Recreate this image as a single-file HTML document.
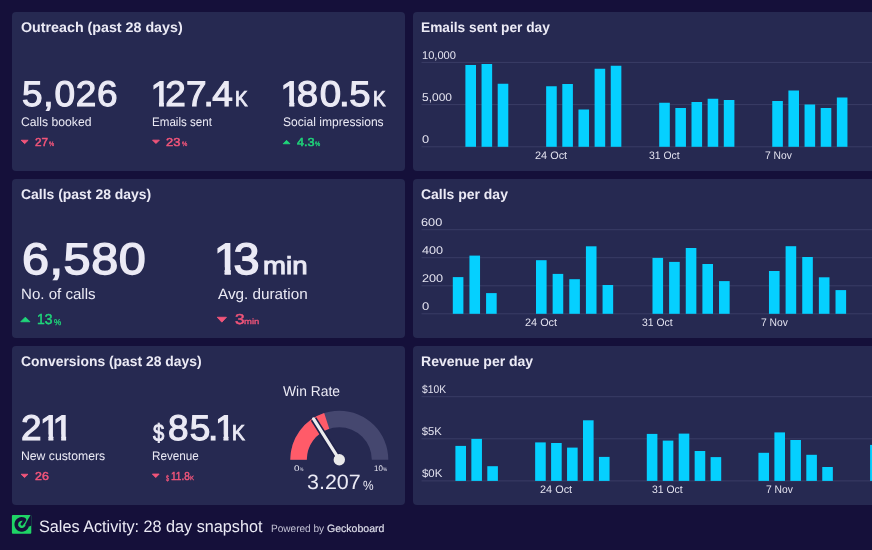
<!DOCTYPE html>
<html lang="en">
<head>
<meta charset="utf-8">
<title>Sales Activity: 28 day snapshot</title>
<style>
*{box-sizing:border-box;margin:0;padding:0}
html,body{width:872px;height:550px;overflow:hidden;background:#15103a}
body{font-family:"Liberation Sans",sans-serif;color:#ebeaf5;position:relative}
.board{position:absolute;left:0;top:0;width:872px;height:550px;overflow:hidden}
.panel{position:absolute;background:#262951;border-radius:4px}
.foot{position:absolute;left:0;top:504px;width:872px;height:46px}
.tx{position:absolute;white-space:nowrap;line-height:1;font-weight:400;font-style:normal;display:block;transform-origin:0 0;text-rendering:geometricPrecision}
svg{position:absolute;left:0;top:0;overflow:visible}
.n1{display:inline-block;margin:0 -0.165em 0 -0.07em;clip-path:polygon(0 0,0.365em 0,0.365em 1.2em,0.232em 1.2em,0.232em 0.66em,0 0.66em)}
.dp{margin:0 -0.05em 0 -0.09em}
</style>
</head>
<body>
<main class="board">
<section class="panel outreach" style="left:12px;top:12px;width:393px;height:159px">
<svg width="393" height="159" viewBox="12 12 393 159" aria-hidden="true">
<polygon points="21.15,140.25 28.15,140.25 24.65,143.65" fill="#f2557a" stroke="#f2557a" stroke-width="0.9" stroke-linejoin="round"/>
<polygon points="152.55,140.15 159.35,140.15 155.95,143.55" fill="#f2557a" stroke="#f2557a" stroke-width="0.9" stroke-linejoin="round"/>
<polygon points="283.15,143.75 289.95,143.75 286.55,140.35" fill="#1fd67a" stroke="#1fd67a" stroke-width="0.9" stroke-linejoin="round"/>
</svg>
<h2 class="tx" style="left:8.73px;top:8px;font-size:14.00px;transform:scaleX(1.0184);font-weight:700">Outreach (past 28 days)</h2>
<span class="tx" style="left:10.26px;top:65px;font-size:35.57px;letter-spacing:0.75px;transform:scaleX(1.0400);-webkit-text-stroke:1.1px">5,026</span>
<span class="tx" style="left:140.87px;top:65px;font-size:35.57px;letter-spacing:0.28px;transform:scaleX(1.0400);-webkit-text-stroke:1.1px"><span class="n1">1</span>27<span class="dp">.</span>4</span>
<span class="tx" style="left:222.93px;top:77px;font-size:21.50px;transform:scaleX(0.8729);-webkit-text-stroke:0.9px">K</span>
<span class="tx" style="left:271.32px;top:65px;font-size:35.57px;letter-spacing:1.36px;transform:scaleX(1.0800);-webkit-text-stroke:1.1px"><span class="n1">1</span>80<span class="dp">.</span>5</span>
<span class="tx" style="left:360.83px;top:77px;font-size:21.50px;transform:scaleX(0.8729);-webkit-text-stroke:0.9px">K</span>
<span class="tx" style="left:9.40px;top:104px;font-size:12.41px;transform:scaleX(0.9821)">Calls booked</span>
<span class="tx" style="left:140.28px;top:104px;font-size:12.41px;transform:scaleX(0.9352)">Emails sent</span>
<span class="tx" style="left:270.81px;top:104px;font-size:12.41px;transform:scaleX(0.9731)">Social impressions</span>
<span class="tx" style="left:22.99px;top:126px;font-size:11.48px;transform:scaleX(1.0249);-webkit-text-stroke:0.5px;color:#f2557a">27</span>
<span class="tx" style="left:37.16px;top:130px;font-size:6.40px;transform:scaleX(0.9064);-webkit-text-stroke:0.3px;color:#f2557a">%</span>
<span class="tx" style="left:154.08px;top:126px;font-size:11.48px;transform:scaleX(1.1240);-webkit-text-stroke:0.5px;color:#f2557a">23</span>
<span class="tx" style="left:169.57px;top:130px;font-size:6.40px;transform:scaleX(0.9295);-webkit-text-stroke:0.3px;color:#f2557a">%</span>
<span class="tx" style="left:285.01px;top:126px;font-size:11.48px;transform:scaleX(1.1085);-webkit-text-stroke:0.5px;color:#1fd67a">4.3</span>
<span class="tx" style="left:303.36px;top:130px;font-size:6.40px;transform:scaleX(0.9120);-webkit-text-stroke:0.3px;color:#1fd67a">%</span>
</section>
<section class="panel emails" style="left:413px;top:12px;width:480px;height:159px">
<svg width="480" height="159" viewBox="413 12 480 159" aria-hidden="true">
<g class="grid">
<rect x="421.5" y="61.90" width="460" height="1" fill="#3a3c65"/>
<rect x="421.5" y="104.10" width="460" height="1" fill="#3a3c65"/>
<rect x="421.5" y="146.30" width="460" height="1" fill="#3a3c65"/>
</g>
<g class="bars">
<rect x="465.40" y="65.00" width="10.6" height="81.80" fill="#05d0ff"/>
<rect x="481.55" y="64.00" width="10.6" height="82.80" fill="#05d0ff"/>
<rect x="497.70" y="83.75" width="10.6" height="63.05" fill="#05d0ff"/>
<rect x="546.15" y="86.25" width="10.6" height="60.55" fill="#05d0ff"/>
<rect x="562.30" y="84.00" width="10.6" height="62.80" fill="#05d0ff"/>
<rect x="578.45" y="109.50" width="10.6" height="37.30" fill="#05d0ff"/>
<rect x="594.60" y="68.75" width="10.6" height="78.05" fill="#05d0ff"/>
<rect x="610.75" y="65.75" width="10.6" height="81.05" fill="#05d0ff"/>
<rect x="659.20" y="102.75" width="10.6" height="44.05" fill="#05d0ff"/>
<rect x="675.35" y="108.00" width="10.6" height="38.80" fill="#05d0ff"/>
<rect x="691.50" y="102.00" width="10.6" height="44.80" fill="#05d0ff"/>
<rect x="707.65" y="98.75" width="10.6" height="48.05" fill="#05d0ff"/>
<rect x="723.80" y="100.00" width="10.6" height="46.80" fill="#05d0ff"/>
<rect x="772.25" y="101.00" width="10.6" height="45.80" fill="#05d0ff"/>
<rect x="788.40" y="90.50" width="10.6" height="56.30" fill="#05d0ff"/>
<rect x="804.55" y="104.50" width="10.6" height="42.30" fill="#05d0ff"/>
<rect x="820.70" y="108.00" width="10.6" height="38.80" fill="#05d0ff"/>
<rect x="836.85" y="97.50" width="10.6" height="49.30" fill="#05d0ff"/>
</g>
</svg>
<h2 class="tx" style="left:8.12px;top:8px;font-size:14.00px;transform:scaleX(0.9795);font-weight:700">Emails sent per day</h2>
<span class="tx" style="left:8.66px;top:39px;font-size:11.25px;transform:scaleX(0.9873);color:#e3e2ef">10,000</span>
<span class="tx" style="left:8.84px;top:81px;font-size:11.25px;transform:scaleX(1.0633);color:#e3e2ef">5,000</span>
<span class="tx" style="left:9.05px;top:123px;font-size:11.25px;transform:scaleX(1.1371);color:#e3e2ef">0</span>
<span class="tx" style="left:122.22px;top:139px;font-size:10.93px;transform:scaleX(0.9979);color:#e3e2ef">24 Oct</span>
<span class="tx" style="left:235.94px;top:139px;font-size:10.93px;transform:scaleX(0.9532);color:#e3e2ef">31 Oct</span>
<span class="tx" style="left:351.54px;top:139px;font-size:10.93px;transform:scaleX(0.9403);color:#e3e2ef">7 Nov</span>
</section>
<section class="panel calls" style="left:12px;top:179px;width:393px;height:159px">
<svg width="393" height="159" viewBox="12 179 393 159" aria-hidden="true">
<polygon points="20.75,321.75 29.95,321.75 25.35,317.15" fill="#1fd67a" stroke="#1fd67a" stroke-width="0.9" stroke-linejoin="round"/>
<polygon points="217.25,317.25 226.45,317.25 221.85,322.15" fill="#f2557a" stroke="#f2557a" stroke-width="0.9" stroke-linejoin="round"/>
</svg>
<h2 class="tx" style="left:8.74px;top:8px;font-size:14.00px;transform:scaleX(0.9959);font-weight:700">Calls (past 28 days)</h2>
<span class="tx" style="left:9.55px;top:59px;font-size:44.21px;letter-spacing:0.47px;transform:scaleX(1.1000);-webkit-text-stroke:1.4px">6,580</span>
<span class="tx" style="left:205.45px;top:59px;font-size:44.21px;letter-spacing:1.46px;transform:scaleX(1.0600);-webkit-text-stroke:1.4px"><span class="n1">1</span>3</span>
<span class="tx" style="left:250.78px;top:76px;font-size:24.68px;transform:scaleX(1.1190);-webkit-text-stroke:1.0px">min</span>
<span class="tx" style="left:9.00px;top:108px;font-size:15.08px">No. of calls</span>
<span class="tx" style="left:205.60px;top:108px;font-size:15.08px;transform:scaleX(1.0125)">Avg. duration</span>
<span class="tx" style="left:25.13px;top:134px;font-size:14.50px;transform:scaleX(0.9587);-webkit-text-stroke:0.5px;color:#1fd67a">13</span>
<span class="tx" style="left:41.64px;top:139px;font-size:8.39px;transform:scaleX(0.9689);-webkit-text-stroke:0.3px;color:#1fd67a">%</span>
<span class="tx" style="left:222.61px;top:134px;font-size:14.50px;transform:scaleX(1.1892);-webkit-text-stroke:0.5px;color:#f2557a">3</span>
<span class="tx" style="left:232.24px;top:139px;font-size:7.72px;transform:scaleX(1.2259);-webkit-text-stroke:0.3px;color:#f2557a">min</span>
</section>
<section class="panel calls-chart" style="left:413px;top:179px;width:480px;height:159px">
<svg width="480" height="159" viewBox="413 179 480 159" aria-hidden="true">
<g class="grid">
<rect x="421.5" y="229.20" width="460" height="1" fill="#3a3c65"/>
<rect x="421.5" y="257.20" width="460" height="1" fill="#3a3c65"/>
<rect x="421.5" y="285.30" width="460" height="1" fill="#3a3c65"/>
<rect x="421.5" y="313.30" width="460" height="1" fill="#3a3c65"/>
</g>
<g class="bars">
<rect x="452.80" y="277.10" width="10.6" height="36.70" fill="#05d0ff"/>
<rect x="469.44" y="255.60" width="10.6" height="58.20" fill="#05d0ff"/>
<rect x="486.08" y="293.10" width="10.6" height="20.70" fill="#05d0ff"/>
<rect x="536.00" y="260.20" width="10.6" height="53.60" fill="#05d0ff"/>
<rect x="552.64" y="273.90" width="10.6" height="39.90" fill="#05d0ff"/>
<rect x="569.28" y="279.20" width="10.6" height="34.60" fill="#05d0ff"/>
<rect x="585.92" y="246.30" width="10.6" height="67.50" fill="#05d0ff"/>
<rect x="602.56" y="285.00" width="10.6" height="28.80" fill="#05d0ff"/>
<rect x="652.48" y="257.90" width="10.6" height="55.90" fill="#05d0ff"/>
<rect x="669.12" y="261.90" width="10.6" height="51.90" fill="#05d0ff"/>
<rect x="685.76" y="248.00" width="10.6" height="65.80" fill="#05d0ff"/>
<rect x="702.40" y="264.00" width="10.6" height="49.80" fill="#05d0ff"/>
<rect x="719.04" y="281.10" width="10.6" height="32.70" fill="#05d0ff"/>
<rect x="768.96" y="271.00" width="10.6" height="42.80" fill="#05d0ff"/>
<rect x="785.60" y="246.20" width="10.6" height="67.60" fill="#05d0ff"/>
<rect x="802.24" y="257.00" width="10.6" height="56.80" fill="#05d0ff"/>
<rect x="818.88" y="277.30" width="10.6" height="36.50" fill="#05d0ff"/>
<rect x="835.52" y="290.10" width="10.6" height="23.70" fill="#05d0ff"/>
</g>
</svg>
<h2 class="tx" style="left:8.44px;top:8px;font-size:14.00px;transform:scaleX(0.9971);font-weight:700">Calls per day</h2>
<span class="tx" style="left:8.48px;top:39px;font-size:11.25px;transform:scaleX(1.1338);color:#e3e2ef">600</span>
<span class="tx" style="left:8.80px;top:67px;font-size:11.25px;transform:scaleX(1.1208);color:#e3e2ef">400</span>
<span class="tx" style="left:8.51px;top:95px;font-size:11.25px;transform:scaleX(1.1264);color:#e3e2ef">200</span>
<span class="tx" style="left:8.64px;top:123px;font-size:11.25px;transform:scaleX(1.1559);color:#e3e2ef">0</span>
<span class="tx" style="left:111.91px;top:139px;font-size:10.93px;transform:scaleX(0.9977);color:#e3e2ef">24 Oct</span>
<span class="tx" style="left:229.15px;top:139px;font-size:10.93px;transform:scaleX(0.9484);color:#e3e2ef">31 Oct</span>
<span class="tx" style="left:348.14px;top:139px;font-size:10.93px;transform:scaleX(0.9437);color:#e3e2ef">7 Nov</span>
</section>
<section class="panel conversions" style="left:12px;top:346px;width:393px;height:159px">
<svg width="393" height="159" viewBox="12 346 393 159" aria-hidden="true">
<polygon points="21.15,474.25 27.95,474.25 24.55,477.55" fill="#f2557a" stroke="#f2557a" stroke-width="0.9" stroke-linejoin="round"/>
<polygon points="152.35,474.05 159.15,474.05 155.75,477.55" fill="#f2557a" stroke="#f2557a" stroke-width="0.9" stroke-linejoin="round"/>
<g>
<path d="M290.30,459.70 A49,49 0 0 1 388.30,459.70 L371.80,459.70 A32.5,32.5 0 0 0 306.80,459.70 Z" fill="#45476f"/>
<path d="M290.30,459.70 A49,49 0 0 1 324.16,413.10 L329.26,428.79 A32.5,32.5 0 0 0 306.80,459.70 Z" fill="#ff5b69"/>
<line x1="339.3" y1="459.7" x2="313.56" y2="418.95" stroke="#1f2149" stroke-width="6.4" stroke-linecap="butt"/>
<line x1="339.3" y1="459.7" x2="313.56" y2="418.95" stroke="#ececee" stroke-width="3.2" stroke-linecap="round"/>
<circle cx="339.3" cy="459.7" r="5.7" fill="#e9e9ea"/>
</g>
</svg>
<h2 class="tx" style="left:8.74px;top:8px;font-size:14.00px;transform:scaleX(0.9920);font-weight:700">Conversions (past 28 days)</h2>
<span class="tx" style="left:9.11px;top:65px;font-size:35.57px;letter-spacing:0.83px;transform:scaleX(1.0400);-webkit-text-stroke:1.1px">2<span class="n1">1</span><span class="n1">1</span></span>
<span class="tx" style="left:141.43px;top:76px;font-size:24.14px;transform:scaleX(0.8399);-webkit-text-stroke:0.9px">$</span>
<span class="tx" style="left:155.95px;top:65px;font-size:35.57px;letter-spacing:1.03px;transform:scaleX(1.0400);-webkit-text-stroke:1.1px">85<span class="dp">.</span><span class="n1">1</span></span>
<span class="tx" style="left:219.52px;top:77px;font-size:21.50px;transform:scaleX(0.8933);-webkit-text-stroke:0.9px">K</span>
<span class="tx" style="left:9.00px;top:104px;font-size:12.41px;transform:scaleX(0.9851)">New customers</span>
<span class="tx" style="left:140.27px;top:104px;font-size:12.41px;transform:scaleX(0.9412)">Revenue</span>
<span class="tx" style="left:23.28px;top:126px;font-size:11.48px;transform:scaleX(1.0808);-webkit-text-stroke:0.5px;color:#f2557a">26</span>
<span class="tx" style="left:153.76px;top:129px;font-size:8.21px;transform:scaleX(0.6720);-webkit-text-stroke:0.3px;color:#f2557a">$</span>
<span class="tx" style="left:158.63px;top:126px;font-size:11.48px;transform:scaleX(0.8716);-webkit-text-stroke:0.5px;color:#f2557a">11.8</span>
<span class="tx" style="left:178.19px;top:130px;font-size:6.11px;transform:scaleX(0.9680);-webkit-text-stroke:0.3px;color:#f2557a">K</span>
<span class="tx" style="left:271.27px;top:39px;font-size:14.28px;transform:scaleX(0.9707)">Win Rate</span>
<span class="tx" style="left:282.42px;top:119px;font-size:8.25px;transform:scaleX(1.1974)">0</span>
<span class="tx" style="left:288.00px;top:122px;font-size:5.05px;transform:scaleX(0.7468)">%</span>
<span class="tx" style="left:361.79px;top:119px;font-size:8.16px;transform:scaleX(0.9706)">10</span>
<span class="tx" style="left:370.63px;top:122px;font-size:5.05px;transform:scaleX(0.9175)">%</span>
<span class="tx" style="left:295.27px;top:127px;font-size:20.79px;transform:scaleX(1.0336)">3.207</span>
<span class="tx" style="left:350.50px;top:133px;font-size:13.42px;transform:scaleX(0.8890)">%</span>
</section>
<section class="panel revenue-chart" style="left:413px;top:346px;width:480px;height:159px">
<svg width="480" height="159" viewBox="413 346 480 159" aria-hidden="true">
<g class="grid">
<rect x="421.5" y="396.20" width="460" height="1" fill="#3a3c65"/>
<rect x="421.5" y="438.30" width="460" height="1" fill="#3a3c65"/>
<rect x="421.5" y="480.40" width="460" height="1" fill="#3a3c65"/>
</g>
<g class="bars">
<rect x="455.40" y="445.90" width="10.6" height="35.00" fill="#05d0ff"/>
<rect x="471.35" y="438.90" width="10.6" height="42.00" fill="#05d0ff"/>
<rect x="487.30" y="466.20" width="10.6" height="14.70" fill="#05d0ff"/>
<rect x="535.15" y="442.40" width="10.6" height="38.50" fill="#05d0ff"/>
<rect x="551.10" y="443.00" width="10.6" height="37.90" fill="#05d0ff"/>
<rect x="567.05" y="447.60" width="10.6" height="33.30" fill="#05d0ff"/>
<rect x="583.00" y="420.30" width="10.6" height="60.60" fill="#05d0ff"/>
<rect x="598.95" y="456.90" width="10.6" height="24.00" fill="#05d0ff"/>
<rect x="646.80" y="433.90" width="10.6" height="47.00" fill="#05d0ff"/>
<rect x="662.75" y="440.60" width="10.6" height="40.30" fill="#05d0ff"/>
<rect x="678.70" y="433.60" width="10.6" height="47.30" fill="#05d0ff"/>
<rect x="694.65" y="451.00" width="10.6" height="29.90" fill="#05d0ff"/>
<rect x="710.60" y="457.10" width="10.6" height="23.80" fill="#05d0ff"/>
<rect x="758.45" y="452.80" width="10.6" height="28.10" fill="#05d0ff"/>
<rect x="774.40" y="432.40" width="10.6" height="48.50" fill="#05d0ff"/>
<rect x="790.35" y="440.00" width="10.6" height="40.90" fill="#05d0ff"/>
<rect x="806.30" y="454.80" width="10.6" height="26.10" fill="#05d0ff"/>
<rect x="822.25" y="467.00" width="10.6" height="13.90" fill="#05d0ff"/>
<rect x="870.10" y="444.90" width="10.6" height="36.00" fill="#05d0ff"/>
</g>
</svg>
<h2 class="tx" style="left:8.10px;top:8px;font-size:14.00px;font-weight:700">Revenue per day</h2>
<span class="tx" style="left:8.79px;top:39px;font-size:11.25px;transform:scaleX(0.9129);color:#e3e2ef">$10K</span>
<span class="tx" style="left:8.74px;top:81px;font-size:11.25px;color:#e3e2ef">$5K</span>
<span class="tx" style="left:8.74px;top:123px;font-size:11.25px;transform:scaleX(1.0159);color:#e3e2ef">$0K</span>
<span class="tx" style="left:127.22px;top:139px;font-size:10.93px;transform:scaleX(0.9979);color:#e3e2ef">24 Oct</span>
<span class="tx" style="left:239.45px;top:139px;font-size:10.93px;transform:scaleX(0.9509);color:#e3e2ef">31 Oct</span>
<span class="tx" style="left:353.44px;top:139px;font-size:10.93px;transform:scaleX(0.9403);color:#e3e2ef">7 Nov</span>
</section>
<footer class="foot">
<svg width="872" height="46" viewBox="0 504 872 46" aria-hidden="true">
<g transform="translate(11.9,514.9)"><rect width="19.4" height="18.9" rx="1" fill="#1fd466"/><polygon points="18.7,0 19.4,0 19.4,10.6 17.6,11.6 13.9,9.6 14.6,7.0" fill="#15103a"/><path d="M15.35,8.73 L15.39,9.88 L15.19,11.02 L14.76,12.08 L14.11,13.04 L13.29,13.83 L12.31,14.44 L11.23,14.84 L10.09,15.00 L8.94,14.92 L7.84,14.60 L6.82,14.06 L5.94,13.32 L5.24,12.41 L4.73,11.38 L4.45,10.27 L4.41,9.12 L4.61,7.98 L5.04,6.92 L5.69,5.96 L6.51,5.17 L7.49,4.56 L8.57,4.16 L9.71,4.00 L10.86,4.08 L11.96,4.40 L12.98,4.94" fill="none" stroke="#15103a" stroke-width="3.7" stroke-linecap="butt" stroke-linejoin="round"/><path d="M12.98,4.94 Q12.30,6.70 10.10,9.20" fill="none" stroke="#15103a" stroke-width="2.9" stroke-linecap="round" stroke-linejoin="round"/></g>
</svg>
<span class="tx" style="left:39.22px;top:15px;font-size:16.62px;transform:scaleX(0.9759)">Sales Activity: 28 day snapshot</span>
<span class="tx" style="left:271.13px;top:20px;font-size:10.64px;transform:scaleX(0.9470);color:#c4c3d6">Powered by</span>
<span class="tx" style="left:326.63px;top:20px;font-size:10.64px;transform:scaleX(0.9917);-webkit-text-stroke:0.2px;color:#dedeea">Geckoboard</span>
</footer>
</main>
</body>
</html>
